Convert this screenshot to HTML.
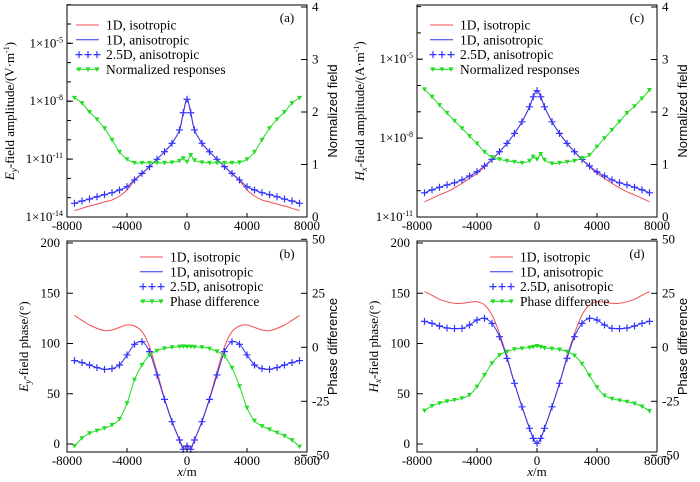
<!DOCTYPE html>
<html><head><meta charset="utf-8"><style>
html,body{margin:0;padding:0;background:#fff;}
svg{display:block;font-family:"Liberation Serif",serif;}
</style></head><body>
<svg id="chart" width="700" height="482" viewBox="0 0 700 482" font-family="Liberation Serif, serif" xmlns="http://www.w3.org/2000/svg"></svg>
<script>
const xs = [-7500,-7000,-6500,-6000,-5500,-5000,-4500,-4000,-3500,-3000,-2500,-2000,-1500,-1000,-500,-250,0,250,500,1000,1500,2000,2500,3000,3500,4000,4500,5000,5500,6000,6500,7000,7500];
const xTicks = [-8000,-4000,0,4000,8000];
const aIso = [-13.67,-13.55,-13.43,-13.33,-13.22,-13.12,-12.91,-12.6,-12.12,-11.76,-11.40,-11.01,-10.62,-10.18,-9.49,-8.6,-7.9,-8.6,-9.49,-10.18,-10.62,-11.01,-11.40,-11.76,-12.12,-12.6,-12.91,-13.12,-13.22,-13.33,-13.43,-13.55,-13.67];
const aAni = [-13.29,-13.17,-13.07,-12.95,-12.84,-12.74,-12.60,-12.43,-12.08,-11.74,-11.39,-11.01,-10.62,-10.18,-9.49,-8.6,-7.9,-8.6,-9.49,-10.18,-10.62,-11.01,-11.39,-11.74,-12.08,-12.43,-12.60,-12.74,-12.84,-12.95,-13.07,-13.17,-13.29];
const aNorm = [2.27,2.17,2.0,1.86,1.69,1.47,1.24,1.1,1.03,1.03,1.03,1.03,1.03,1.04,1.07,1.12,1.05,1.18,1.08,1.04,1.03,1.03,1.03,1.03,1.04,1.1,1.24,1.47,1.69,1.86,2.0,2.17,2.27];
const cIso = [-10.42,-10.29,-10.16,-10.04,-9.89,-9.72,-9.53,-9.34,-9.09,-8.82,-8.52,-8.2,-7.82,-7.38,-6.81,-6.43,-6.2,-6.43,-6.81,-7.38,-7.82,-8.2,-8.52,-8.82,-9.09,-9.34,-9.53,-9.72,-9.89,-10.04,-10.16,-10.29,-10.42];
const cAni = [-10.08,-9.97,-9.87,-9.78,-9.7,-9.59,-9.44,-9.28,-9.06,-8.81,-8.52,-8.2,-7.82,-7.38,-6.81,-6.43,-6.2,-6.43,-6.81,-7.38,-7.82,-8.2,-8.52,-8.81,-9.06,-9.28,-9.44,-9.59,-9.7,-9.78,-9.87,-9.97,-10.08];
const cNorm = [2.43,2.29,2.13,1.98,1.83,1.69,1.54,1.4,1.24,1.14,1.1,1.07,1.05,1.03,1.07,1.15,1.1,1.2,1.09,1.02,1.03,1.05,1.07,1.12,1.18,1.34,1.5,1.66,1.82,1.98,2.11,2.26,2.42];
const bIso = [128,123,118.4,115,112.8,113.4,116,118.4,117.4,111.8,96.8,72,45.4,23,4,-3,-1,-3,4,23,45.4,72,96.8,111.8,117.4,118.4,116,113.4,112.8,115,118.4,123,128];
const bAni = [83,81,78.6,76,74.3,75,78.6,88.6,99.2,101.8,91.9,68.7,44.4,22.2,4,-5.3,-2,-5.3,4,22.2,44.4,68.7,91.9,101.8,99.2,88.6,78.6,75,74.3,76,78.6,81,83];
const bDiff = [-45.7,-42.1,-39.8,-38.6,-37.5,-36,-33.2,-25.9,-15.1,-8.2,-3.6,-1.6,-0.5,0,0.3,0.4,0.3,0.3,0.2,0,-0.6,-1.9,-4.2,-9.5,-18,-28,-34,-36.5,-38,-39.5,-41,-43,-46];
const dIso = [151.6,148,144,141.6,140,140,141,141.6,138.3,128.4,110,87,60.4,37,15.6,5.6,0.7,5.6,15.6,37,60.4,87,110,128.4,138.3,141.6,141,140,140,141.6,144,148,151.6];
const dAni = [122,120,117.4,115.4,114.8,115,118.4,123.4,125,120,106.8,85.2,60.4,37,15.6,5.6,0.7,5.6,15.6,37,60.4,85.2,106.8,120,125,123.4,118.4,115,114.8,115.4,117.4,120,122];
const dDiff = [-29.3,-27.2,-25.9,-25,-24.4,-23.6,-22.1,-18.2,-12.8,-7.4,-3.6,-2,-0.9,-0.5,-0.1,0.2,0.6,0.2,-0.3,-0.6,-1,-2,-3.8,-7.6,-13,-18.5,-22.3,-23.8,-24.6,-25.2,-26,-27.4,-29.5];
const logTicksA = [-14,-11,-8,-5];
const logTicksC = [-11,-8,-5];
const normTicks = [0,1,2,3,4];
const phaseTicks = [0,50,100,150,200];
const diffTicks = [-50,-25,0,25,50];

const NS = "http://www.w3.org/2000/svg";
const svg = document.getElementById('chart');
function mk(tag, attrs, parent){ const e=document.createElementNS(NS,tag); for(const k in attrs) e.setAttribute(k,attrs[k]); (parent||svg).appendChild(e); return e; }

function smoothPath(pts){
  let d = "M"+pts[0][0].toFixed(1)+","+pts[0][1].toFixed(1);
  for(let i=0;i<pts.length-1;i++){
    const p0=pts[Math.max(0,i-1)],p1=pts[i],p2=pts[i+1],p3=pts[Math.min(pts.length-1,i+2)];
    const c1=[p1[0]+(p2[0]-p0[0])/6,p1[1]+(p2[1]-p0[1])/6];
    const c2=[p2[0]-(p3[0]-p1[0])/6,p2[1]-(p3[1]-p1[1])/6];
    d+=" C"+c1[0].toFixed(1)+","+c1[1].toFixed(1)+" "+c2[0].toFixed(1)+","+c2[1].toFixed(1)+" "+p2[0].toFixed(1)+","+p2[1].toFixed(1);
  }
  return d;
}

function panel(cfg){
  const g = mk('g',{});
  
  
  const X = v => cfg.x0 + (v+8000)/16000*(cfg.x1-cfg.x0);
  const iso = mk('path',{d:smoothPath(xs.map((x,i)=>[X(x),cfg.yL(cfg.iso[i])])),fill:'none',stroke:'#f05050','stroke-width':1},g);
  
  
  const ani = mk('path',{d:smoothPath(xs.map((x,i)=>[X(x),cfg.yL(cfg.ani[i])])),fill:'none',stroke:'#3333ee','stroke-width':1},g);
  
  
  xs.forEach((x,i)=>{
    const px=X(x), py=cfg.yL(cfg.ani[i]);
    const m = mk('path',{d:`M${px-3.5},${py}h7M${px},${py-3.5}v7`,stroke:'#3333ff','stroke-width':1.2},g);
    
    
  });
  const gr = mk('path',{d:smoothPath(xs.map((x,i)=>[X(x),cfg.yR(cfg.r[i])])),fill:'none',stroke:'#22dd22','stroke-width':1},g);
  
  
  xs.forEach((x,i)=>{
    const px=X(x), py=cfg.yR(cfg.r[i]);
    const m = mk('path',{d:`M${px-2.5},${py-2}L${px+2.5},${py-2}L${px},${py+2.5}Z`,fill:'#22dd22'},g);
    
    
  });
  const fr = mk('rect',{x:cfg.x0,y:cfg.top,width:cfg.x1-cfg.x0,height:cfg.bot-cfg.top,fill:'none',stroke:'#000','stroke-width':1},g);
  
  
  xTicks.forEach(t=>{
    const px=X(t);
    mk('line',{x1:px,x2:px,y1:cfg.bot,y2:cfg.bot-4,stroke:'#000'},g);
    const tx = mk('text',{x:px,y:cfg.bot+13,'font-size':13,'text-anchor':'middle'},g);
    tx.textContent = t;
    
    
  });
  cfg.lminor.forEach(v=>{ const py=cfg.yL(v); mk('line',{x1:cfg.x0,x2:cfg.x0+4,y1:py,y2:py,stroke:'#000'},g); });
  cfg.lticks.forEach(v=>{
    const py=cfg.yL(v);
    mk('line',{x1:cfg.x0,x2:cfg.x0+6,y1:py,y2:py,stroke:'#000'},g);
    const tx = mk('text',{x:cfg.x0-7,y:py+4,'font-size':13,'text-anchor':'end'},g);
    if(cfg.log){ tx.innerHTML = '1×10<tspan dy="-5" font-size="8">'+v+'</tspan>'; tx.setAttribute('x',cfg.x0-4); }
    else tx.textContent = v;
    
    
  });
  cfg.rticks.forEach(v=>{
    const py=cfg.yR(v);
    mk('line',{x1:cfg.x1,x2:cfg.x1-6,y1:py,y2:py,stroke:'#000'},g);
    const tx = mk('text',{x:cfg.x1+5,y:py+4,'font-size':13},g);
    tx.textContent = v;
    
    
  });
  const lt = mk('text',{transform:`translate(${cfg.ltx},${(cfg.top+cfg.bot)/2}) rotate(-90)`,'font-size':13,'text-anchor':'middle'},g);
  lt.innerHTML = cfg.ltitle;
  
  
  const rt = mk('text',{transform:`translate(${cfg.x1+30},${(cfg.top+cfg.bot)/2}) rotate(-90)`,'font-size':13,'text-anchor':'middle','font-family':'Liberation Sans, sans-serif'},g);
  rt.textContent = cfg.rtitle;
  
  
  const lb = mk('text',{x:cfg.x1-20,y:cfg.top+17,'font-size':13,'text-anchor':'middle'},g);
  lb.textContent = cfg.label;
  
  
  if(cfg.xtitle){
    const xt = mk('text',{x:(cfg.x0+cfg.x1)/2,y:cfg.bot+24,'font-size':13,'text-anchor':'middle'},g);
    xt.innerHTML = '<tspan font-style="italic">x</tspan>/m';
    
    
  }
  const lg = mk('g',{},g);
  
  
  const L = cfg.leg;
  const names = ['1D, isotropic','1D, anisotropic','2.5D, anisotropic',cfg.rlegend];
  names.forEach((n,i)=>{
    const yy = L.y + i*14.8;
    if(i===0) mk('line',{x1:L.x,x2:L.x+23,y1:yy,y2:yy,stroke:'#f05050'},lg);
    if(i===1) mk('line',{x1:L.x,x2:L.x+23,y1:yy,y2:yy,stroke:'#3333ee'},lg);
    if(i===2) [L.x+3,L.x+12,L.x+21].forEach(px=>mk('path',{d:`M${px-3.5},${yy}h7M${px},${yy-3.5}v7`,stroke:'#3333ff','stroke-width':1.2},lg));
    if(i===3){ mk('line',{x1:L.x,x2:L.x+23,y1:yy,y2:yy,stroke:'#22dd22'},lg);
      [L.x+3,L.x+12,L.x+21].forEach(px=>mk('path',{d:`M${px-2.5},${yy-2}L${px+2.5},${yy-2}L${px},${yy+2.5}Z`,fill:'#22dd22'},lg)); }
    const t = mk('text',{x:L.x+30,y:yy+4.5,'font-size':13.5},lg);
    t.textContent = n;
    
    
  });
}
const range=(a,b)=>{const r=[];for(let i=a;i<=b;i++)r.push(i);return r;};
const yTopR = v => 217 - v*52.5;
const yBotL = v => 444 - v*1.005;
const yBotR = v => 347.3 - v*2.16;
panel({name:'panel-a',x0:67,x1:307,top:5,bot:217,log:true,yL:v=>217-(v+14)*19.3,yR:yTopR,iso:aIso,ani:aAni,r:aNorm,rname:'normalized-response',
  lticks:logTicksA,lminor:range(-14,-3),rticks:normTicks,ltx:14,label:'(a)',leg:{x:76,y:25},rlegend:'Normalized responses',rtitle:'Normalized field',
  ltitle:'<tspan font-style="italic">E</tspan><tspan font-style="italic" dy="3" font-size="9">y</tspan><tspan dy="-3">-field amplitude/(V·m</tspan><tspan dy="-5" font-size="8">-1</tspan><tspan dy="5">)</tspan>'});
panel({name:'panel-c',x0:417,x1:657,top:5,bot:217,log:true,yL:v=>217-(v+11)*26.3,yR:yTopR,iso:cIso,ani:cAni,r:cNorm,rname:'normalized-response',
  lticks:logTicksC,lminor:range(-11,-3),rticks:normTicks,ltx:364,label:'(c)',leg:{x:430,y:25},rlegend:'Normalized responses',rtitle:'Normalized field',
  ltitle:'<tspan font-style="italic">H</tspan><tspan font-style="italic" dy="3" font-size="9">x</tspan><tspan dy="-3">-field amplitude/(A·m</tspan><tspan dy="-5" font-size="8">-1</tspan><tspan dy="5">)</tspan>'});
panel({name:'panel-b',x0:67,x1:307,top:241,bot:452,log:false,yL:yBotL,yR:yBotR,iso:bIso,ani:bAni,r:bDiff,rname:'phase-difference',
  lticks:phaseTicks,lminor:[],rticks:diffTicks,ltx:28,label:'(b)',leg:{x:140,y:257},rlegend:'Phase difference',rtitle:'Phase difference',xtitle:true,
  ltitle:'<tspan font-style="italic">E</tspan><tspan font-style="italic" dy="3" font-size="9">y</tspan><tspan dy="-3">-field phase/(°)</tspan>'});
panel({name:'panel-d',x0:417,x1:657,top:241,bot:452,log:false,yL:yBotL,yR:yBotR,iso:dIso,ani:dAni,r:dDiff,rname:'phase-difference',
  lticks:phaseTicks,lminor:[],rticks:diffTicks,ltx:378,label:'(d)',leg:{x:490,y:257},rlegend:'Phase difference',rtitle:'Phase difference',xtitle:true,
  ltitle:'<tspan font-style="italic">H</tspan><tspan font-style="italic" dy="3" font-size="9">x</tspan><tspan dy="-3">-field phase/(°)</tspan>'});
</script>
</body></html>
